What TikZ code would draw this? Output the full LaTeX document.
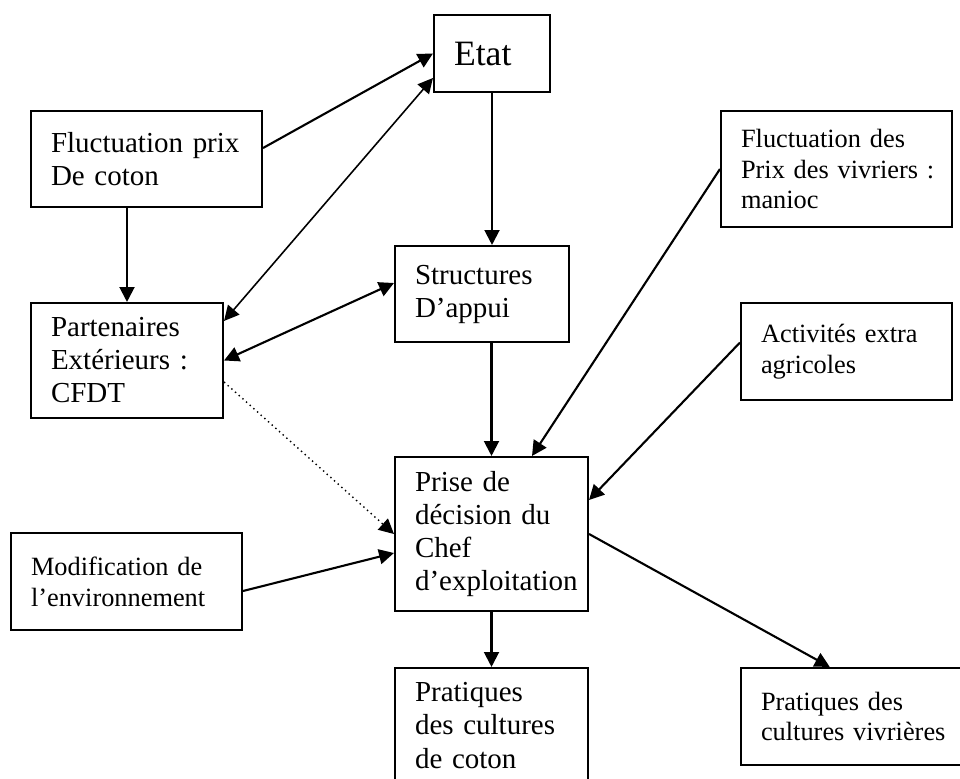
\documentclass[tikz,border=0pt]{standalone}
\usepackage{fontspec}
\setmainfont{Liberation Serif}
\usetikzlibrary{arrows.meta}
\hyphenpenalty=10000
\exhyphenpenalty=10000
\hbadness=10000
\hfuzz=20pt

\tikzset{
  bloc/.style={draw,line width=1.2pt,align=left,inner xsep=0.4cm,inner ysep=2pt,font=\fontsize{16.5}{18.8}\selectfont},
  petit/.style={font=\fontsize{15}{17.6}\selectfont},
  fleche/.style={-{Triangle[length=8.5pt,width=8.5pt]},line width=1.2pt},
  dfleche/.style={{Triangle[length=8.5pt,width=8.5pt]}-{Triangle[length=8.5pt,width=8.5pt]},line width=1.2pt},
  pointille/.style={-{Triangle[length=8.5pt,width=8.5pt]},line width=0.8pt,dotted}
}

\begin{document}
\begin{tikzpicture}[x=0.02cm,y=-0.02cm]
            \useasboundingbox (0,0) rectangle (960,778);
            \clip (0,0) rectangle (960,778);
            \node[bloc,minimum width=2.32cm,minimum height=1.54cm,text width=1.52cm,font=\fontsize{20.3}{23}\selectfont] at (492,53.5) (etat) {Etat};
            \node[bloc,minimum width=4.62cm,minimum height=1.92cm,text width=3.82cm] at (146.5,159) (fluxcoton) {\mbox{Fluctuation prix}\\De coton};
            \node[bloc,minimum width=3.84cm,minimum height=2.30cm,text width=3.04cm] at (127,360.5) (partenaires) {Partenaires\\\mbox{Extérieurs :}\\CFDT};
            \node[bloc,minimum width=3.48cm,minimum height=1.92cm,text width=2.68cm] at (482,294) (structures) {Structures\\D’appui};
            \node[bloc,petit,minimum width=4.62cm,minimum height=2.32cm,text width=3.82cm] at (836.5,169) (fluxvivriers) {\mbox{Fluctuation des}\\\mbox{Prix des vivriers :}\\manioc};
            \node[bloc,petit,minimum width=4.22cm,minimum height=1.94cm,text width=3.42cm] at (846.5,351.5) (activites) {\mbox{Activités extra}\\agricoles};
            \node[bloc,minimum width=3.86cm,minimum height=3.08cm,text width=3.06cm] at (491.5,534) (prise) {Prise de\\\mbox{décision du}\\Chef\\\mbox{d’exploitation}};
            \node[bloc,petit,minimum width=4.62cm,minimum height=1.94cm,text width=3.82cm] at (126.5,581.5) (modif) {\mbox{Modification de}\\l’environnement};
            \node[bloc,minimum width=3.86cm,minimum height=2.30cm,text width=3.06cm] at (491.5,725.5) (pratcoton) {Pratiques\\\mbox{des cultures}\\de coton};
            \node[bloc,petit,minimum width=4.55cm,minimum height=1.94cm,text width=3.75cm] at (854.75,716.5) (pratvivrieres) {\mbox{Pratiques des}\\\mbox{cultures vivrières}};
            \draw[fleche] ([yshift=0.22cm]fluxcoton.east) -- (etat.west);
            \draw[dfleche,line width=0.9pt] ([yshift=-0.49cm]etat.west) -- ([yshift=-0.38cm]partenaires.north east);
            \draw[fleche] (etat.south) -- (etat.south |- structures.north);
            \draw[fleche] (partenaires.north |- fluxcoton.south) -- (partenaires.north);
            \draw[dfleche] ([yshift=0.22cm]structures.west) -- (partenaires.east);
            \draw[fleche] (prise.north |- structures.south) -- (prise.north);
            \draw[pointille] ([yshift=-0.43cm]partenaires.east) -- (prise.west);
            \draw[fleche] ([yshift=-0.19cm]modif.east) -- ([yshift=-0.38cm]prise.west);
            \draw[fleche] (fluxvivriers.west) -- ([xshift=0.81cm]prise.north);
            \draw[fleche] ([yshift=0.18cm]activites.west) -- ([yshift=0.68cm]prise.east);
            \draw[fleche] (prise.south) -- (pratcoton.north);
            \draw[fleche] (prise.east) -- ([xshift=-0.5cm]pratvivrieres.north);
          \end{tikzpicture}
\end{document}
